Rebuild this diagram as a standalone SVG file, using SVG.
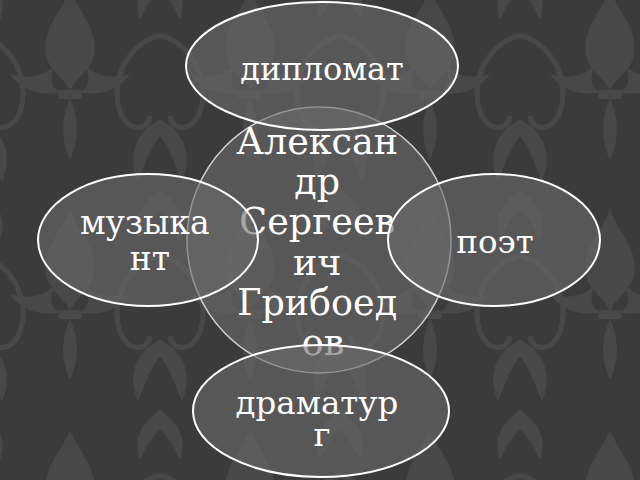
<svg xmlns="http://www.w3.org/2000/svg" width="640" height="480" viewBox="0 0 640 480">
  <style>
    .shape { fill: #6a6a6a; fill-opacity: 0.6; stroke: #ffffff; stroke-width: 2; }
    .center { stroke: #d0d0d0; stroke-width: 1.5; }
    .lbl { font-family: "DejaVu Serif", "Liberation Serif", serif; fill: #ffffff; text-anchor: middle; }
    .orn { fill: #484848; }
  </style>
  <defs>
    <pattern id="damask" x="-20" y="-30" width="180" height="220" patternUnits="userSpaceOnUse">
      <rect width="180" height="220" fill="#3b3b3b"/>
      <g class="orn">
        <path d="M90 20 C80 45 62 58 66 85 C69 100 82 106 90 120 C98 106 111 100 114 85 C118 58 100 45 90 20 Z"/>
        <path d="M90 120 C66 128 42 122 30 104 C48 110 64 106 75 95 C66 115 76 126 90 120 Z"/>
        <path d="M90 120 C114 128 138 122 150 104 C132 110 116 106 105 95 C114 115 104 126 90 120 Z"/>
        <rect x="78" y="120" width="24" height="9" rx="3"/>
        <path d="M90 129 C80 150 82 172 90 190 C98 172 100 150 90 129 Z"/>
        <path d="M0 150 C22 160 34 182 22 212 C14 190 6 172 0 166 Z"/>
        <path d="M180 150 C158 160 146 182 158 212 C166 190 174 172 180 166 Z"/>
        <path d="M0 0 C17 12 28 28 20 50 C12 34 6 22 0 20 Z"/>
        <path d="M180 0 C163 12 152 28 160 50 C168 34 174 22 180 20 Z"/>
      </g>
      <g fill="none" stroke="#484848" stroke-width="5">
        <path d="M0 65 C34 76 50 110 40 142 C32 162 12 162 10 146"/>
        <path d="M180 65 C146 76 130 110 140 142 C148 162 168 162 170 146"/>
      </g>
    </pattern>
  </defs>
  <rect id="background" x="0" y="0" width="640" height="480" fill="url(#damask)"/>
  <g id="connectors"></g>
  <g id="node-center">
    <ellipse class="shape center" cx="319" cy="240" rx="132" ry="133"/>
    <text class="lbl" font-size="36.5">
      <tspan x="323" y="154">Алексан</tspan>
      <tspan x="323" y="194">др</tspan>
      <tspan x="323" y="234">Сергеев</tspan>
      <tspan x="323" y="275">ич</tspan>
      <tspan x="323" y="315">Грибоед</tspan>
      <tspan x="323" y="355">ов</tspan>
    </text>
  </g>
  <g id="node-top">
    <ellipse class="shape" cx="322" cy="66" rx="136" ry="64"/>
    <text class="lbl" font-size="32" x="322" y="80">дипломат</text>
  </g>
  <g id="node-left">
    <ellipse class="shape" cx="148" cy="240" rx="110" ry="66"/>
    <text class="lbl" font-size="33">
      <tspan x="150" y="234">музыка</tspan>
      <tspan x="150" y="270">нт</tspan>
    </text>
  </g>
  <g id="node-right">
    <ellipse class="shape" cx="494" cy="240" rx="106" ry="66"/>
    <text class="lbl" font-size="32.5" x="495" y="253">поэт</text>
  </g>
  <g id="node-bottom">
    <ellipse class="shape" cx="321" cy="411" rx="128" ry="66"/>
    <text class="lbl" font-size="32.5">
      <tspan x="322" y="414">драматур</tspan>
      <tspan x="322" y="446">г</tspan>
    </text>
  </g>
</svg>
